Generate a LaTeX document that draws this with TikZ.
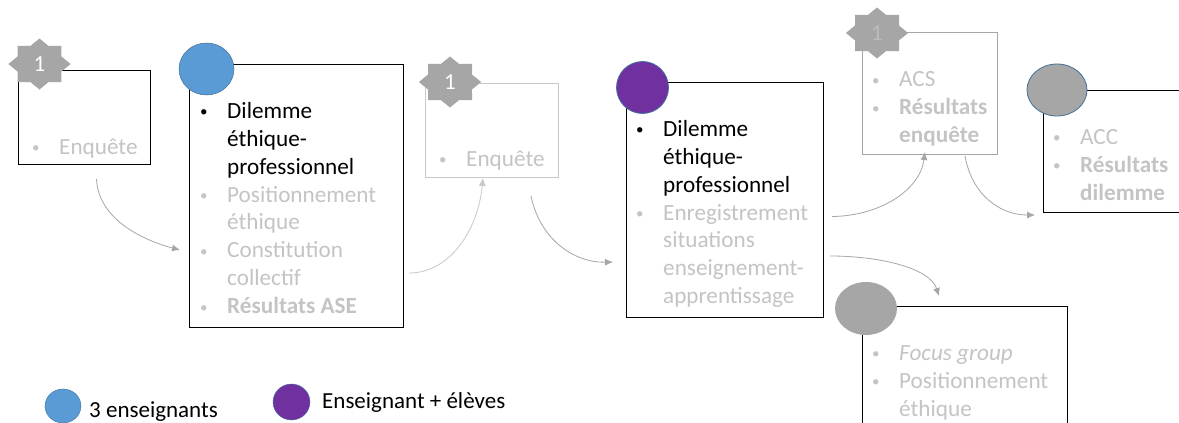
\documentclass[tikz,border=0pt]{standalone}
\usepackage{fontspec}
\usepackage{graphicx}
\setmainfont{Carlito}
\usetikzlibrary{shapes.geometric,arrows.meta}
\definecolor{lg}{HTML}{C4C4C4}
\definecolor{mg}{HTML}{A6A6A6}
\definecolor{lbox}{HTML}{C8C8C8}
\definecolor{sblue}{HTML}{5B9BD5}
\definecolor{spurple}{HTML}{7030A0}
\definecolor{edgeblue}{HTML}{41719C}
\newcommand{\bl}{\hspace*{-3pt}\makebox[27pt][l]{\raisebox{1.5pt}{\fontsize{15}{15}\selectfont\textbullet}}}
\newcommand{\nb}{\hspace*{24pt}}
\newcommand{\fs}{\rule{0pt}{16pt}}
\newcommand{\blk}[1]{\textcolor{black}{#1}}
\tikzset{
  x=1pt,y=-1pt,
  boxb/.style={draw=#1,line width=0.9pt,rectangle,inner sep=0pt},
  txt/.style={anchor=north west,inner sep=0pt,align=left,text=lg,font=\fontsize{23.2}{27.9}\selectfont},
  legend/.style={anchor=west,inner sep=0pt,text=black,font=\fontsize{23}{25}\selectfont},
  starb/.style={star,star points=8,star point ratio=1.307,fill=mg,draw=none,inner sep=0pt,minimum size=51pt,xscale=1.22,transform shape},
  conn/.style={draw=#1,line width=0.8pt,-{Latex[length=8pt,width=7pt]}},
  dot/.style={ellipse,inner sep=0pt},
  num/.style={font=\fontsize{23}{25}\selectfont}
}
\begin{document}
\begin{tikzpicture}
\useasboundingbox (0,0) rectangle (1179,423);
\clip (0,0) rectangle (1179,423);
\fill[white] (0,0) rectangle (1179,423);
% boxes
\node[boxb=black,minimum width=132pt,minimum height=94pt] (b1) at (84,117) {};
\node[boxb=black,minimum width=214pt,minimum height=263pt] (b2) at (296,195.5) {};
\node[boxb=lbox,minimum width=133pt,minimum height=94pt] (b3) at (491.5,130) {};
\node[boxb=black,minimum width=197pt,minimum height=235pt] (b4) at (724.5,199.5) {};
\node[boxb=mg,minimum width=135pt,minimum height=122pt] (b5) at (929.5,93) {};
\node[boxb=black,minimum width=200pt,minimum height=122pt] (b6) at (1143,151) {};
\node[boxb=black,minimum width=205pt,minimum height=200pt] (b7) at (964.5,406) {};
% markers
\node[starb,label={[text=white,num]center:1}] (s1) at (39.5,64) {};
\node[starb,label={[text=white,num]center:1}] (s3) at (450,82) {};
\node[starb,label={[text=mg!75!white,num]center:1}] (s5) at (877,33) {};
\node[dot,fill=sblue,draw=edgeblue,line width=0.5pt,minimum width=55pt,minimum height=52pt] (c2) at (206.5,69) {};
\node[dot,fill=spurple,draw=edgeblue,line width=0.8pt,minimum width=52pt,minimum height=52pt] (c4) at (642.5,87.5) {};
\node[dot,fill=mg,draw=edgeblue,line width=0.8pt,minimum width=60pt,minimum height=52pt] (c6) at (1057,90) {};
\node[dot,fill=mg,minimum width=62pt,minimum height=53pt] (c7) at (866,308.5) {};
% box texts
\node[txt] (t1) at (35,138) {\fs\bl Enquête};
\node[txt] (t2) at (203,102) {\fs\blk{\bl Dilemme}\\\nb\blk{éthique-}\\\nb\blk{professionnel}\\\bl Positionnement\\\nb éthique\\\bl Constitution\\\nb collectif\\\bl\textbf{Résultats ASE}};
\node[txt] (t3) at (442,150) {\fs\bl Enquête};
\node[txt] (t4) at (639,120) {\fs\blk{\bl Dilemme}\\\nb\blk{éthique-}\\\nb\blk{professionnel}\\\bl Enregistrement\\\nb situations\\\nb enseignement-\\\nb apprentissage};
\node[txt] (t5) at (875,70.5) {\fs\bl ACS\\\bl\textbf{Résultats}\\\nb\textbf{enquête}};
\node[txt] (t6) at (1056,128) {\fs\bl ACC\\\bl\textbf{Résultats}\\\nb\textbf{dilemme}};
\node[txt] (t7) at (875,344) {\fs\bl\textit{Focus group}\\\bl Positionnement\\\nb éthique};
% connectors
\coordinate (a1s) at (96.5,179);
\coordinate (a1e) at (180,250);
\coordinate (a2s) at (409,273);
\coordinate (a2e) at (483,178);
\coordinate (a3s) at (531,196);
\coordinate (a3e) at (613,262);
\coordinate (a4s) at (832,216.5);
\coordinate (a4e) at (925,152);
\coordinate (a5s) at (965,156);
\coordinate (a5e) at (1035,215);
\coordinate (a6s) at (830,256);
\coordinate (a6e) at (939,296);
\draw[conn=mg] (a1s) .. controls (98,215) and (135,238) .. (a1e);
\draw[conn=lbox] (a2s) .. controls (450,273) and (478,230) .. (a2e);
\draw[conn=mg] (a3s) .. controls (540,240) and (575,263) .. (a3e);
\draw[conn=mg] (a4s) .. controls (880,216) and (920,190) .. (a4e);
\draw[conn=mg] (a5s) .. controls (972,195) and (1000,215) .. (a5e);
\draw[conn=mg] (a6s) .. controls (880,256) and (930,268) .. (a6e);
% legend
\node[dot,fill=sblue,draw=edgeblue,line width=0.4pt,minimum width=36pt,minimum height=34pt] (l1) at (63,406) {};
\node[dot,fill=spurple,draw=edgeblue,line width=0.4pt,minimum width=37pt,minimum height=36pt] (l2) at (291.5,402) {};
\node[legend] (l1t) at (89,412) {3 enseignants};
\node[legend] (l2t) at (322,402.5) {Enseignant + élèves};
\end{tikzpicture}
\end{document}
